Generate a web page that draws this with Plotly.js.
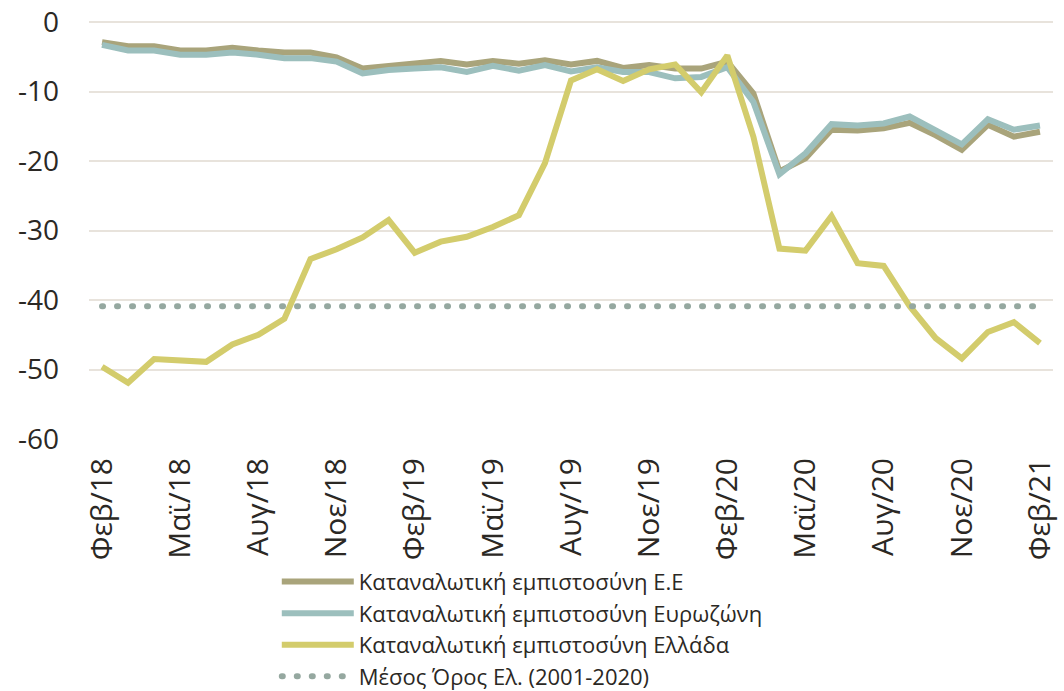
<!DOCTYPE html>
<html>
<head>
<meta charset="utf-8">
<script src="https://cdn.plot.ly/plotly-3.0.1.min.js"></script>
<style>
html,body{margin:0;padding:0;background:#fff;}
#chart{width:1064px;height:691px;}
.scatterlayer .trace:last-child path.js-line, .legend .traces:last-child path.js-line {stroke-linecap:round;}
</style>
</head>
<body>
<div id="chart"></div>
<script>
const months = ['Φεβ/18','Μαρ/18','Απρ/18','Μαϊ/18','Ιουν/18','Ιουλ/18','Αυγ/18','Σεπ/18','Οκτ/18','Νοε/18','Δεκ/18','Ιαν/19',
  'Φεβ/19','Μαρ/19','Απρ/19','Μαϊ/19','Ιουν/19','Ιουλ/19','Αυγ/19','Σεπ/19','Οκτ/19','Νοε/19','Δεκ/19','Ιαν/20',
  'Φεβ/20','Μαρ/20','Απρ/20','Μαϊ/20','Ιουν/20','Ιουλ/20','Αυγ/20','Σεπ/20','Οκτ/20','Νοε/20','Δεκ/20','Ιαν/21','Φεβ/21'];
const tickLabels = ['Φεβ/18','Μαϊ/18','Αυγ/18','Νοε/18','Φεβ/19','Μαϊ/19','Αυγ/19','Νοε/19','Φεβ/20','Μαϊ/20','Αυγ/20','Νοε/20','Φεβ/21'];
const yTickVals = [0,-10,-20,-30,-40,-50,-60];
const yTickText = ['0','-10','-20','-30','-40','-50','-60'];

const euValues = [-2.9,-3.5,-3.5,-4.1,-4.1,-3.7,-4.1,-4.4,-4.4,-5.1,-6.7,-6.4,
  -6.0,-5.6,-6.1,-5.6,-6.0,-5.5,-6.1,-5.6,-6.6,-6.2,-6.7,-6.7,
  -5.7,-10.3,-21.5,-19.6,-15.5,-15.6,-15.3,-14.5,-16.3,-18.4,-14.8,-16.5,-15.8];
const ezValues = [-3.3,-4.1,-4.1,-4.7,-4.7,-4.4,-4.7,-5.2,-5.2,-5.7,-7.4,-6.9,
  -6.7,-6.5,-7.2,-6.3,-7.0,-6.2,-7.1,-6.5,-7.2,-7.2,-8.1,-7.9,
  -6.5,-11.5,-21.9,-18.9,-14.7,-14.9,-14.6,-13.6,-15.6,-17.6,-14.0,-15.5,-14.9];
const grValues = [-49.6,-51.9,-48.5,-48.6,-48.9,-46.4,-45.0,-42.7,-34.1,-32.7,-31.0,-28.5,
  -33.2,-31.6,-30.9,-29.5,-27.8,-20.3,-8.4,-6.8,-8.5,-6.8,-6.1,-10.1,
  -4.8,-16.5,-32.6,-32.9,-27.9,-34.7,-35.1,-40.9,-45.5,-48.4,-44.6,-43.2,-46.2];
const meanValue = -40.9;
const names = ['Καταναλωτική εμπιστοσύνη Ε.Ε','Καταναλωτική εμπιστοσύνη Ευρωζώνη','Καταναλωτική εμπιστοσύνη Ελλάδα','Μέσος Όρος Ελ. (2001-2020)'];

const FONT = '"Open Sans", sans-serif';
const TXT = '#2b2824';

const traces = [
  {x: months, y: euValues, name: names[0], type: 'scatter', mode: 'lines', line: {color: '#A9A47B', width: 6}},
  {x: months, y: ezValues, name: names[1], type: 'scatter', mode: 'lines', line: {color: '#9CBFBD', width: 6}},
  {x: months, y: grValues, name: names[2], type: 'scatter', mode: 'lines', line: {color: '#D3CC6C', width: 6}},
  {x: [months[0], months[months.length-1]], y: [meanValue, meanValue], name: names[3], type: 'scatter', mode: 'lines',
   line: {color: '#95A8A0', width: 6, dash: '1px,14px'}}
];

const layout = {
  width: 1064, height: 691,
  margin: {l: 89, r: 11, t: 22, b: 252, autoexpand: false},
  paper_bgcolor: '#fff', plot_bgcolor: '#fff',
  font: {family: FONT, color: TXT},
  showlegend: true,
  legend: {
    x: 0.1948, xanchor: 'left', y: -0.292, yanchor: 'top',
    orientation: 'v', font: {size: 22, family: FONT, color: TXT},
    bgcolor: 'rgba(0,0,0,0)', itemwidth: 72, tracegroupgap: 0
  },
  xaxis: {
    type: 'category', range: [-0.5, 36.5],
    tickmode: 'array', tickvals: tickLabels, ticktext: tickLabels,
    tickangle: -90, tickfont: {size: 30, family: FONT, color: TXT},
    showgrid: false, zeroline: false, showline: false, ticks: '',
    ticklabelstandoff: 12
  },
  yaxis: {
    range: [-60, 0], tickmode: 'array', tickvals: yTickVals, ticktext: yTickText,
    tickfont: {size: 28, family: FONT, color: TXT},
    showgrid: true, gridcolor: '#E8E3DC', gridwidth: 2,
    zeroline: true, zerolinecolor: '#E8E3DC', zerolinewidth: 2,
    showline: false, ticks: '', ticklabelstandoff: 29
  }
};

Plotly.newPlot('chart', traces, layout, {displayModeBar: false, staticPlot: true});
</script>
</body>
</html>
